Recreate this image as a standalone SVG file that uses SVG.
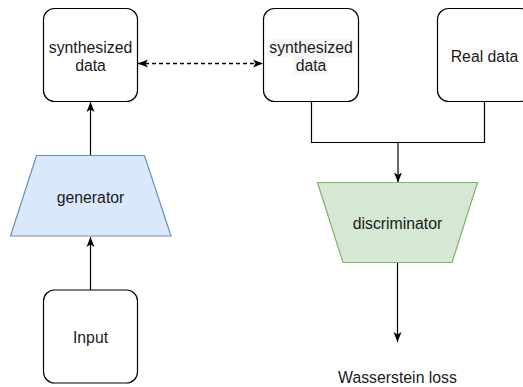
<svg xmlns="http://www.w3.org/2000/svg" width="523" height="387" viewBox="0 0 523 387">
  <defs>
    <marker id="arrow" viewBox="0 0 10 8" refX="10" refY="4" markerWidth="10" markerHeight="9" markerUnits="userSpaceOnUse" orient="auto-start-reverse">
      <path d="M0,0 L10,4 L0,8 L2.5,4 Z" fill="#000"/>
    </marker>
    <style>
      .box { fill: #fff; stroke: #000; stroke-width: 1.2; }
      .gen { fill: #dae8fc; stroke: #6c8ebf; stroke-width: 1.2; }
      .dis { fill: #d5e8d4; stroke: #82b366; stroke-width: 1.2; }
      .lbl { font-family: "Liberation Sans", Arial, sans-serif; font-size: 15.8px; fill: #1a1a1a; text-anchor: middle; }
      .edge { fill: none; stroke: #000; stroke-width: 1.2; }
      .dash { stroke-width: 1.4; stroke-dasharray: 4 3; }
    </style>
  </defs>

  <!-- connectors -->
  <g id="connectors">
    <path class="edge" d="M90.5,290 V237" marker-end="url(#arrow)"/>
    <path class="edge" d="M90.5,155.5 V102" marker-end="url(#arrow)"/>
    <path class="edge dash" d="M138,63.5 H263" marker-start="url(#arrow)" marker-end="url(#arrow)"/>
    <path class="edge" d="M311.5,102 V142.5 H484.5 V102"/>
    <path class="edge" d="M398,142.5 V182.5" marker-end="url(#arrow)"/>
    <path class="edge" d="M397.5,263 V342" marker-end="url(#arrow)"/>
  </g>

  <g id="synth-left">
    <rect class="box" x="43.5" y="8.5" width="94" height="93" rx="11"/>
    <text class="lbl" x="90.5" y="53">synthesized</text>
    <text class="lbl" x="90.5" y="71">data</text>
  </g>

  <g id="synth-right">
    <rect class="box" x="263.5" y="8.5" width="95" height="93" rx="11"/>
    <rect x="267" y="39" width="86" height="18" fill="#f7f7f7"/>
    <rect x="293" y="57" width="34" height="18" fill="#f7f7f7"/>
    <text class="lbl" x="311" y="53">synthesized</text>
    <text class="lbl" x="311" y="71">data</text>
  </g>

  <g id="real-data">
    <rect class="box" x="437.5" y="8.5" width="94" height="93" rx="11"/>
    <text class="lbl" x="484.5" y="61.5">Real data</text>
  </g>

  <g id="generator">
    <polygon class="gen" points="36.5,155.5 144.5,155.5 171,236 10.5,236"/>
    <text class="lbl" x="90.5" y="202.5">generator</text>
  </g>

  <g id="input">
    <rect class="box" x="43.5" y="290" width="94" height="93" rx="11"/>
    <text class="lbl" x="90.5" y="343">Input</text>
  </g>

  <g id="discriminator">
    <polygon class="dis" points="317.5,182.5 477.5,182.5 452,262.5 343,262.5"/>
    <text class="lbl" x="397.5" y="229">discriminator</text>
  </g>

  <g id="loss">
    <text class="lbl" x="397.5" y="383">Wasserstein loss</text>
  </g>
</svg>
